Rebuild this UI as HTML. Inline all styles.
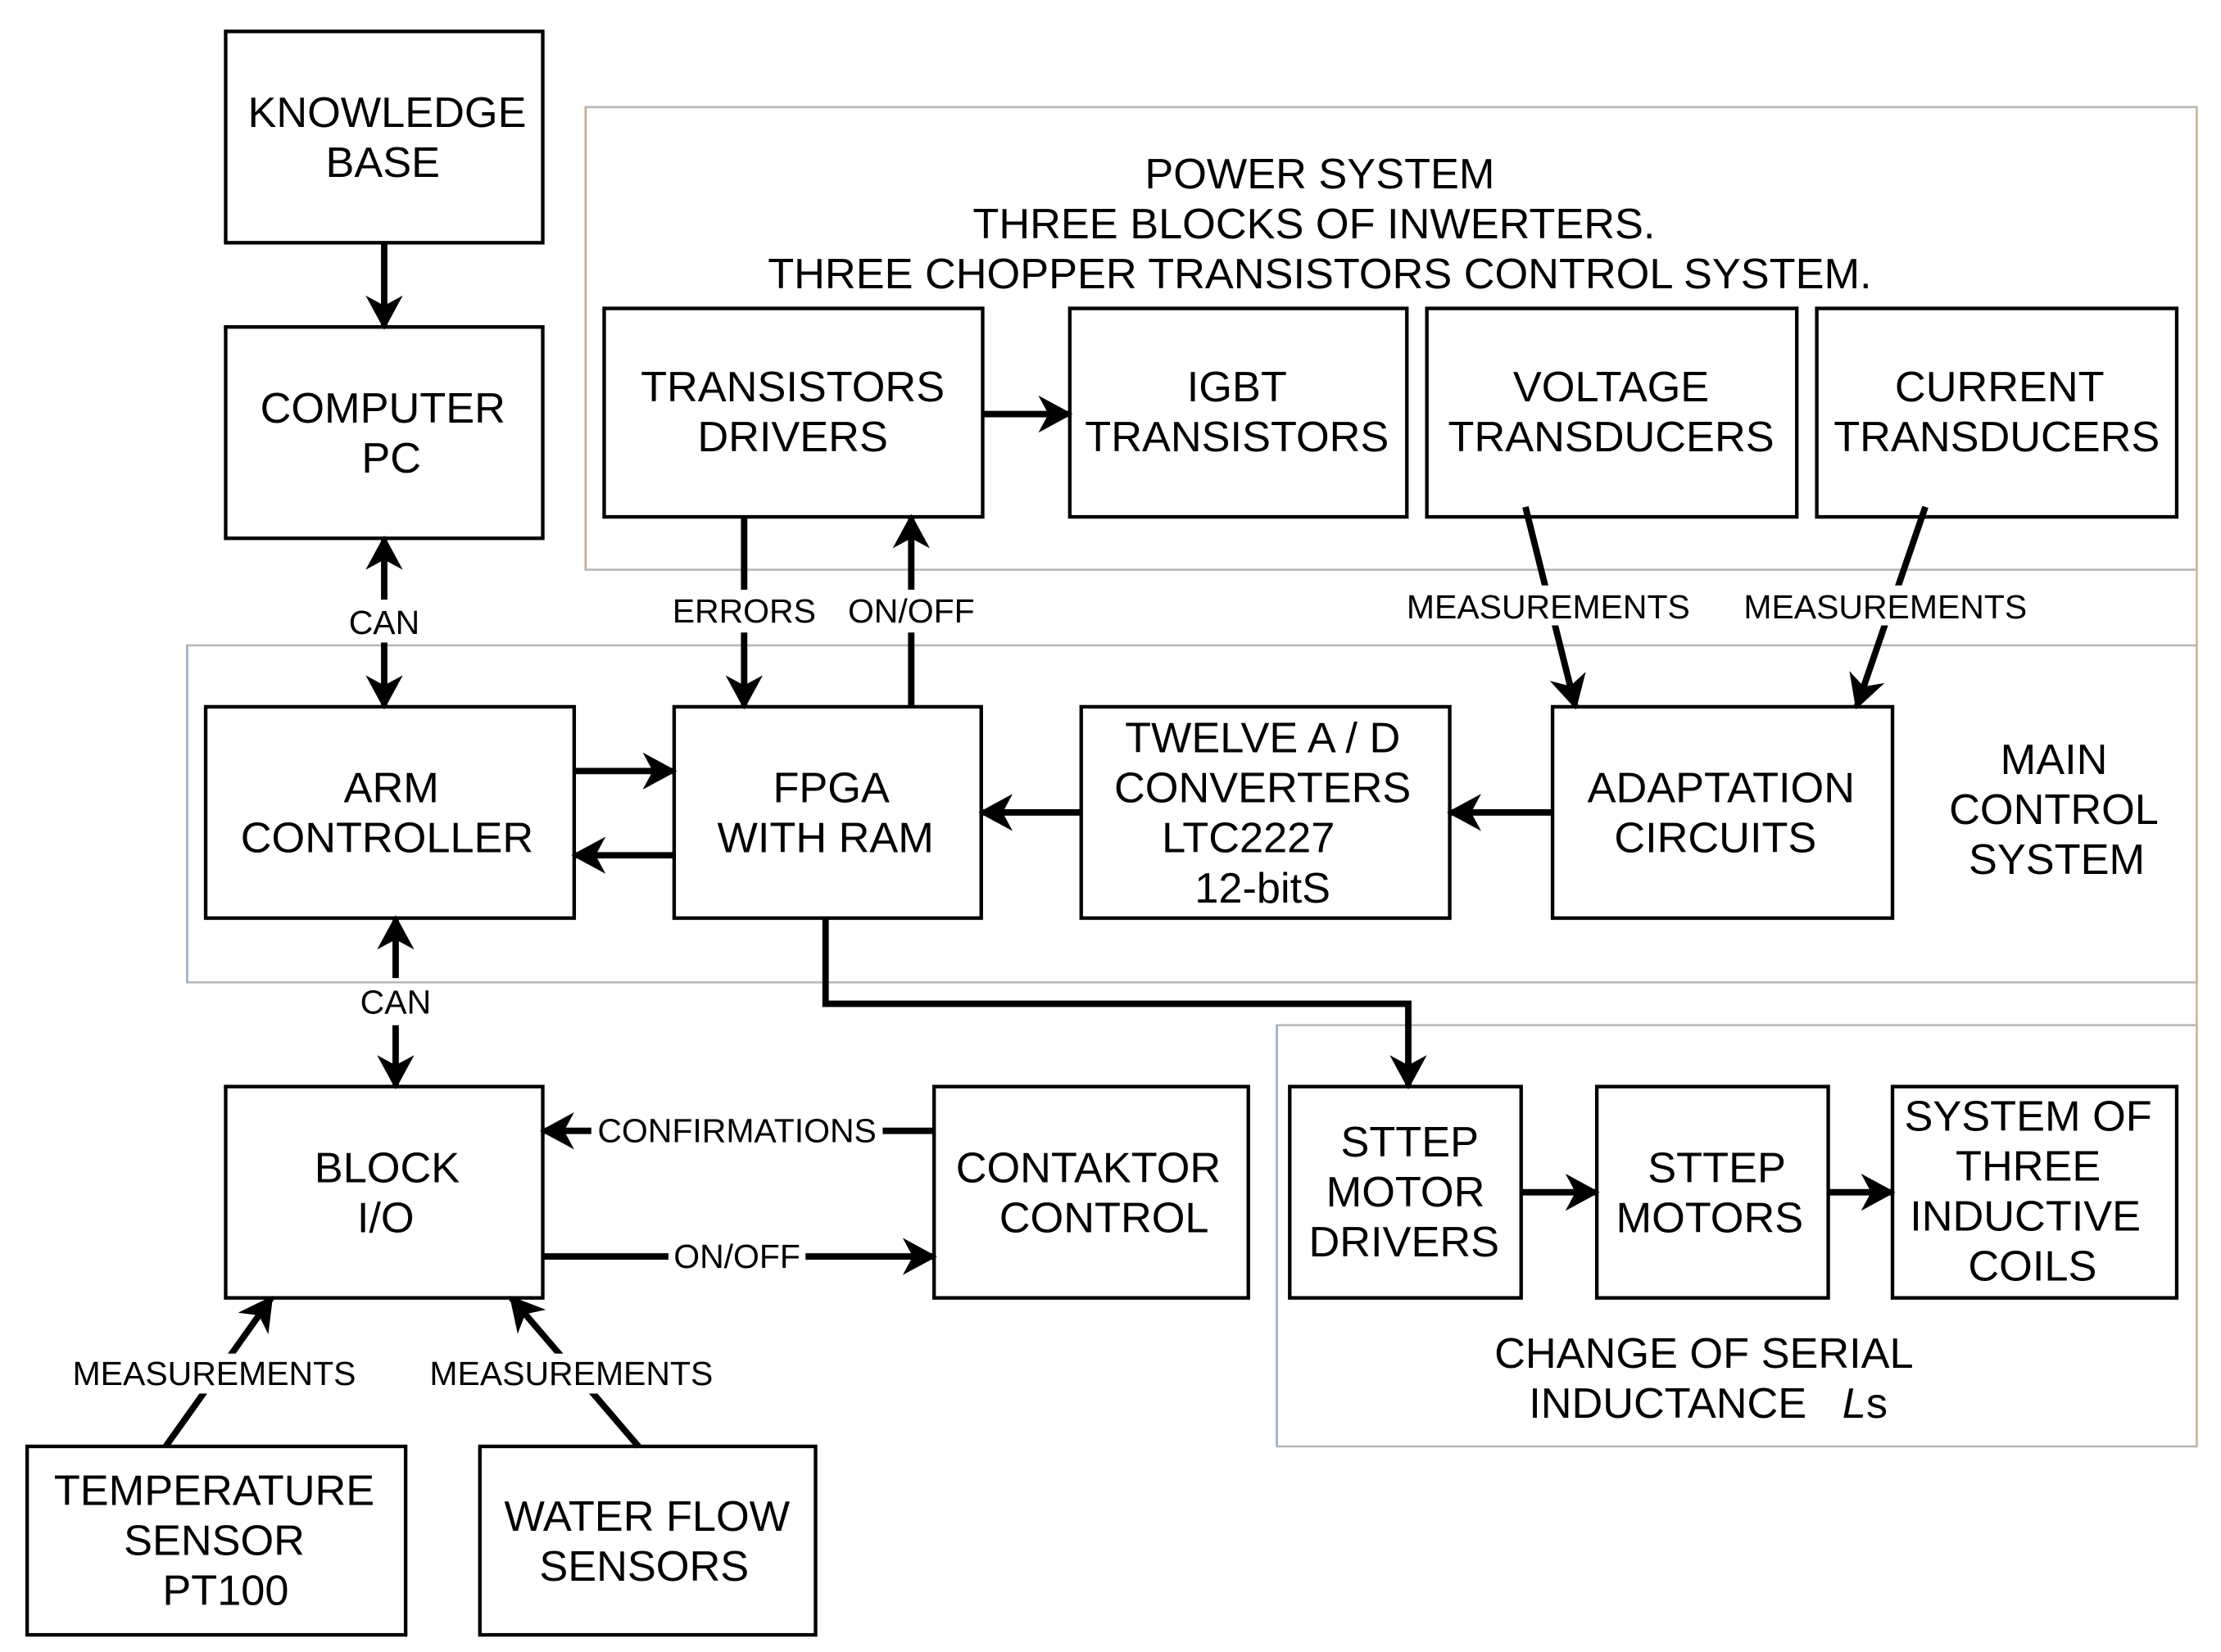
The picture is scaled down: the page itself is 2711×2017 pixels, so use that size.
<!DOCTYPE html>
<html><head><meta charset="utf-8"><style>
html,body{margin:0;padding:0;background:#fff;}
svg{display:block;}
text{font-family:"Liberation Sans",sans-serif;fill:#000;}
</style></head><body>
<svg width="2711" height="2017" viewBox="0 0 1555 1157" preserveAspectRatio="none" xmlns="http://www.w3.org/2000/svg">
<defs>
<marker id="a" viewBox="0 0 24 26" refX="22" refY="13" markerWidth="24" markerHeight="26" markerUnits="userSpaceOnUse" orient="auto">
<path d="M0,0 L24,13 L0,26 L7,13 Z" fill="#000"/>
</marker>
</defs>
<style>
.b{fill:#fff;stroke:#000;stroke-width:2.5}
.g{fill:none;stroke:#b8b8b8;stroke-width:1.5}
.l{stroke:#000;stroke-width:4.5;fill:none;marker-end:url(#a)}
.t{font-size:30px;text-anchor:middle}
.s{font-size:23.5px;text-anchor:middle}
</style>
<rect class="g" x="410" y="75" width="1128" height="324"/>
<rect class="g" x="131" y="452" width="1407" height="236"/>
<rect class="g" x="894" y="718" width="644" height="295"/>
<line x1="131" y1="452" x2="131" y2="688" stroke="#9ab3cc" stroke-width="1.5"/>
<line x1="894" y1="718" x2="894" y2="1013" stroke="#9ab3cc" stroke-width="1.5"/>
<line x1="410" y1="75" x2="410" y2="399" stroke="#c9a98f" stroke-width="1.5"/>
<line x1="1538" y1="75" x2="1538" y2="1013" stroke="#c9b89a" stroke-width="1.5"/>

<text class="t" x="924" y="132">POWER SYSTEM</text>
<text class="t" x="920" y="167">THREE BLOCKS OF INWERTERS.</text>
<text class="t" x="924" y="202">THREE CHOPPER TRANSISTORS CONTROL SYSTEM.</text>
<text class="t" x="1438" y="542">MAIN</text>
<text class="t" x="1438" y="577">CONTROL</text>
<text class="t" x="1440" y="612">SYSTEM</text>
<text class="t" x="1193" y="958">CHANGE OF SERIAL</text>
<text class="t" x="1196" y="993">INDUCTANCE &#160;&#160;<tspan font-style="italic">L</tspan>s</text>

<rect class="b" x="158" y="22" width="222" height="148"/>
<text class="t" x="271" y="89">KNOWLEDGE</text><text class="t" x="268" y="124">BASE</text>
<rect class="b" x="158" y="229" width="222" height="148"/>
<text class="t" x="268" y="296">COMPUTER</text><text class="t" x="274" y="331">PC</text>
<rect class="b" x="423" y="216" width="265" height="146"/>
<text class="t" x="555" y="281">TRANSISTORS</text><text class="t" x="555" y="316">DRIVERS</text>
<rect class="b" x="749" y="216" width="236" height="146"/>
<text class="t" x="866" y="281">IGBT</text><text class="t" x="866" y="316">TRANSISTORS</text>
<rect class="b" x="999" y="216" width="259" height="146"/>
<text class="t" x="1128" y="281">VOLTAGE</text><text class="t" x="1128" y="316">TRANSDUCERS</text>
<rect class="b" x="1272" y="216" width="252" height="146"/>
<text class="t" x="1400" y="281">CURRENT</text><text class="t" x="1398" y="316">TRANSDUCERS</text>
<rect class="b" x="144" y="495" width="258" height="148"/>
<text class="t" x="274" y="562">ARM</text><text class="t" x="271" y="597">CONTROLLER</text>
<rect class="b" x="472" y="495" width="215" height="148"/>
<text class="t" x="582" y="562">FPGA</text><text class="t" x="578" y="597">WITH RAM</text>
<rect class="b" x="757" y="495" width="258" height="148"/>
<text class="t" x="884" y="527">TWELVE A / D</text><text class="t" x="884" y="562">CONVERTERS</text><text class="t" x="874" y="597">LTC2227</text><text class="t" x="884" y="632">12-bitS</text>
<rect class="b" x="1087" y="495" width="238" height="148"/>
<text class="t" x="1205" y="562">ADAPTATION</text><text class="t" x="1201" y="597">CIRCUITS</text>
<rect class="b" x="158" y="761" width="222" height="148"/>
<text class="t" x="271" y="828">BLOCK</text><text class="t" x="270" y="863">I/O</text>
<rect class="b" x="654" y="761" width="220" height="148"/>
<text class="t" x="762" y="828">CONTAKTOR</text><text class="t" x="773" y="863">CONTROL</text>
<rect class="b" x="903" y="761" width="162" height="148"/>
<text class="t" x="987" y="810">STTEP</text><text class="t" x="984" y="845">MOTOR</text><text class="t" x="983" y="880">DRIVERS</text>
<rect class="b" x="1118" y="761" width="162" height="148"/>
<text class="t" x="1202" y="828">STTEP</text><text class="t" x="1197" y="863">MOTORS</text>
<rect class="b" x="1325" y="761" width="199" height="148"/>
<text class="t" x="1420" y="792">SYSTEM OF</text><text class="t" x="1420" y="827">THREE</text><text class="t" x="1418" y="862">INDUCTIVE</text><text class="t" x="1423" y="897">COILS</text>
<rect class="b" x="19" y="1013" width="265" height="132"/>
<text class="t" x="150" y="1054">TEMPERATURE</text><text class="t" x="150" y="1089">SENSOR</text><text class="t" x="158" y="1124">PT100</text>
<rect class="b" x="336" y="1013" width="235" height="132"/>
<text class="t" x="453" y="1072">WATER FLOW</text><text class="t" x="451" y="1107">SENSORS</text>

<line class="l" x1="269" y1="170" x2="269" y2="229"/>
<line class="l" x1="269" y1="420" x2="269" y2="377"/>
<line class="l" x1="269" y1="450" x2="269" y2="495"/>
<text class="s" x="269" y="444">CAN</text>
<line class="l" x1="688" y1="290" x2="749" y2="290"/>
<line class="l" x1="521" y1="362" x2="521" y2="495"/>
<line class="l" x1="638" y1="495" x2="638" y2="362"/>
<rect x="462" y="413" width="232" height="30" fill="#fff"/>
<text class="s" x="521" y="436">ERRORS</text>
<text class="s" x="638" y="436">ON/OFF</text>
<line class="l" x1="1068" y1="355" x2="1103" y2="495"/>
<line class="l" x1="1348" y1="355" x2="1300" y2="495"/>
<rect x="972" y="410" width="460" height="28" fill="#fff"/>
<text class="s" x="1084" y="433">MEASUREMENTS</text>
<text class="s" x="1320" y="433">MEASUREMENTS</text>
<line class="l" x1="402" y1="540" x2="472" y2="540"/>
<line class="l" x1="472" y1="599" x2="402" y2="599"/>
<line class="l" x1="757" y1="569" x2="687" y2="569"/>
<line class="l" x1="1087" y1="569" x2="1015" y2="569"/>
<polyline class="l" points="578,643 578,703 986,703 986,761"/>
<line class="l" x1="277" y1="685" x2="277" y2="643"/>
<line class="l" x1="277" y1="718" x2="277" y2="761"/>
<text class="s" x="277" y="710">CAN</text>
<line class="l" x1="654" y1="792" x2="380" y2="792"/>
<rect x="414" y="778" width="204" height="28" fill="#fff"/>
<text class="s" x="516" y="800">CONFIRMATIONS</text>
<line class="l" x1="380" y1="880" x2="654" y2="880"/>
<rect x="468" y="866" width="96" height="28" fill="#fff"/>
<text class="s" x="516" y="888">ON/OFF</text>
<line class="l" x1="1065" y1="835" x2="1118" y2="835"/>
<line class="l" x1="1280" y1="835" x2="1325" y2="835"/>
<line class="l" x1="116" y1="1013" x2="190" y2="909"/>
<line class="l" x1="447" y1="1013" x2="358" y2="909"/>
<rect x="40" y="948" width="470" height="28" fill="#fff"/>
<text class="s" x="150" y="970">MEASUREMENTS</text>
<text class="s" x="400" y="970">MEASUREMENTS</text>
</svg>
</body></html>
